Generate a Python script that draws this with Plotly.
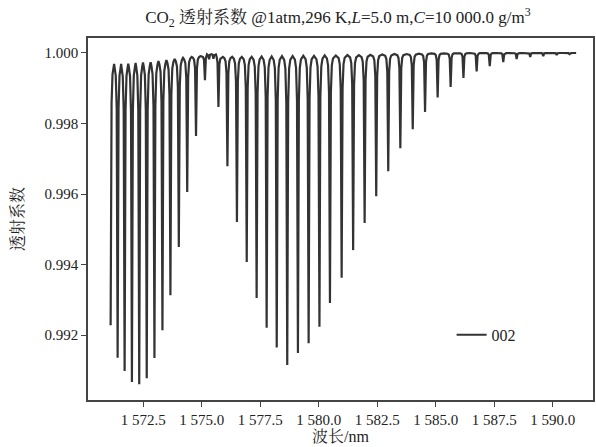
import plotly.graph_objects as go

# ---- data ----
line_centers_nm = [
    1571.107, 1571.406, 1571.705, 1572.017, 1572.329, 1572.650, 1572.979,
    1573.321, 1573.662, 1574.021, 1574.380, 1574.756, 1575.137,
    1575.314, 1575.500,
    1575.714, 1576.098, 1576.504, 1576.923, 1577.346, 1577.774, 1578.205,
    1578.654, 1579.111, 1579.568, 1580.030, 1580.479, 1580.979, 1581.470,
    1581.961, 1582.457, 1582.970, 1583.487, 1584.017, 1584.543, 1585.081,
    1585.637, 1586.184, 1586.748, 1587.308, 1587.885, 1588.457, 1589.038,
    1589.594, 1590.167, 1590.714,
]
line_minima = [
    0.99228, 0.99136, 0.99098, 0.99067, 0.99061, 0.99078, 0.99135,
    0.99214, 0.99313, 0.99450, 0.99606, 0.99765, 0.99923,
    0.99982, 0.99984,
    0.99847, 0.99679, 0.99521, 0.99407, 0.99305, 0.99221, 0.99165,
    0.99115, 0.99149, 0.99177, 0.99224, 0.99291, 0.99363, 0.99441,
    0.99518, 0.99594, 0.99665, 0.99730, 0.99784, 0.99833, 0.99874,
    0.99904, 0.99929, 0.99948, 0.99963, 0.99974, 0.99983, 0.99989,
    0.99991, 0.99994, 0.99997,
]
# upper envelope (top of the curve) just after each line
tops_after = [
    0.99969, 0.99969, 0.99970, 0.99972, 0.99973, 0.99974, 0.99977,
    0.99980, 0.99983, 0.99986, 0.99989, 0.99991, 0.99996,
    0.99997, 0.99996,
    0.99989, 0.99989, 0.99989, 0.99989, 0.99990, 0.99990, 0.99991,
    0.99991, 0.99992, 0.99992, 0.99993, 0.99993, 0.99994, 0.99994,
    0.99995, 0.99996, 0.99997, 0.99997, 0.99998, 0.99999, 0.99999,
    1.00000, 1.00000, 1.00000, 1.00000, 1.00000, 1.00000, 1.00000,
    1.00000, 1.00000, 1.00000,
]
end_nm = 1591.0

series_name = "002"
x_ticks = [1572.5, 1575.0, 1577.5, 1580.0, 1582.5, 1585.0, 1587.5, 1590.0]
x_tick_labels = ["1 572.5", "1 575.0", "1 577.5", "1 580.0", "1 582.5",
                 "1 585.0", "1 587.5", "1 590.0"]
y_ticks = [0.992, 0.994, 0.996, 0.998, 1.000]
y_tick_labels = ["0.992", "0.994", "0.996", "0.998", "1.000"]

# ---- drawing style: shape of each narrow dip ----
SHOULDER_OFFS = [0.04, 0.08, 0.13]
SHOULDER_FRAC = [0.15, 0.04, 0.012]

xs, ys = [], []
n = len(line_centers_nm)
for i in range(n):
    c = line_centers_nm[i]
    m = line_minima[i]
    if i > 0:
        top_l = tops_after[i - 1]
        gap_l = c - line_centers_nm[i - 1]
        for o, f in reversed(list(zip(SHOULDER_OFFS, SHOULDER_FRAC))):
            if o < 0.46 * gap_l:
                xs.append(c - o)
                ys.append(top_l - f * (top_l - m))
    xs.append(c)
    ys.append(m)
    top_r = tops_after[i]
    nxt = line_centers_nm[i + 1] if i + 1 < n else end_nm + 0.2
    gap_r = nxt - c
    for o, f in zip(SHOULDER_OFFS, SHOULDER_FRAC):
        if o < 0.46 * gap_r:
            xs.append(c + o)
            ys.append(top_r - f * (top_r - m))
    if i + 1 < n:
        xs.append((c + nxt) / 2)
        ys.append(top_r)
    else:
        xs.append(end_nm)
        ys.append(top_r)

SERIF = "Liberation Serif, 'Noto Serif CJK SC', 'Noto Sans CJK SC', serif"
AX = "#444444"

fig = go.Figure()
fig.add_trace(go.Scatter(
    x=xs, y=ys, mode="lines", name=series_name,
    line=dict(color="#333333", width=2.2),
))

fig.update_layout(
    width=596, height=447,
    margin=dict(l=88, r=3, t=38, b=47),
    paper_bgcolor="white", plot_bgcolor="white",
    font=dict(family=SERIF, size=15, color="#222222"),
    title=dict(
        text="CO<sub>2</sub> 透射系数 @1atm,296 K,<i>L</i>=5.0 m,<i>C</i>=10 000.0 g/m<sup>3</sup>",
        x=0.567, xanchor="center", y=0.962, yanchor="middle",
        font=dict(family=SERIF, size=17, color="#222222"),
    ),
    showlegend=True,
    legend=dict(
        x=0.72, xanchor="left", y=0.18, yanchor="middle",
        bgcolor="rgba(0,0,0,0)", font=dict(family=SERIF, size=16),
    ),
)
fig.update_xaxes(
    range=[1570.14, 1591.72],
    tickmode="array", tickvals=x_ticks, ticktext=x_tick_labels,
    ticks="outside", ticklen=5, tickwidth=1.3, tickcolor=AX,
    showline=True, linecolor=AX, linewidth=1.5, mirror=True,
    showgrid=False, zeroline=False, automargin=False,
    title=dict(text="波长/nm", standoff=4, font=dict(family=SERIF, size=16)),
    tickfont=dict(family=SERIF, size=15),
)
fig.update_yaxes(
    range=[0.99016, 1.000425],
    tickmode="array", tickvals=y_ticks, ticktext=y_tick_labels,
    ticks="outside", ticklen=5, tickwidth=1.3, tickcolor=AX,
    showline=True, linecolor=AX, linewidth=1.5, mirror=True,
    showgrid=False, zeroline=False, automargin=False,
    title=dict(text="透射系数", standoff=17, font=dict(family=SERIF, size=16)),
    tickfont=dict(family=SERIF, size=15),
)

fig.write_html(
    "out.html",
    config={"displayModeBar": False},
    post_script="document.body.style.margin='0px';document.body.style.overflow='hidden';",
)
